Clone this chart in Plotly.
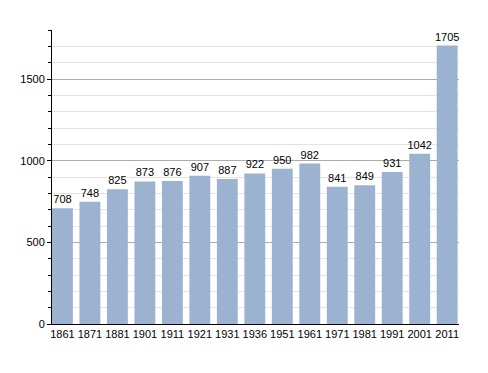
import plotly.graph_objects as go

years = ["1861", "1871", "1881", "1901", "1911", "1921", "1931", "1936",
         "1951", "1961", "1971", "1981", "1991", "2001", "2011"]
population = [708, 748, 825, 873, 876, 907, 887, 922, 950, 982, 841, 849, 931, 1042, 1705]

fig = go.Figure(go.Bar(
    x=years, y=population,
    marker=dict(color="#9bb3d0", line=dict(width=0)),
    text=[str(v) for v in population], textposition="outside",
    textangle=0, constraintext="none",
    textfont=dict(family="Liberation Sans, Arial, sans-serif", size=11, color="#000"),
    cliponaxis=False,
))

fig.update_layout(
    width=488, height=373,
    margin=dict(l=42, r=37, t=22, b=57),
    paper_bgcolor="white", plot_bgcolor="white",
    bargap=0.24, showlegend=False,
    font=dict(family="Liberation Sans, Arial, sans-serif", size=11, color="#000"),
)
fig.update_xaxes(
    type="category", range=[-0.38, 14.43],
    showline=True, linecolor="#000", linewidth=1,
    ticks="", showgrid=False, tickfont=dict(size=11),
)
fig.update_yaxes(
    range=[0, 1800], tickvals=[0, 500, 1000, 1500],
    showline=True, linecolor="#000", linewidth=1,
    ticks="outside", ticklen=4, tickcolor="#000",
    showgrid=True, gridcolor="#ababab", gridwidth=1,
    minor=dict(dtick=100, tick0=0, showgrid=True, gridcolor="#e4e4e4",
               ticks="outside", ticklen=3, tickcolor="#000"),
    zeroline=False, tickfont=dict(size=11),
)

fig.write_html("out.html")
